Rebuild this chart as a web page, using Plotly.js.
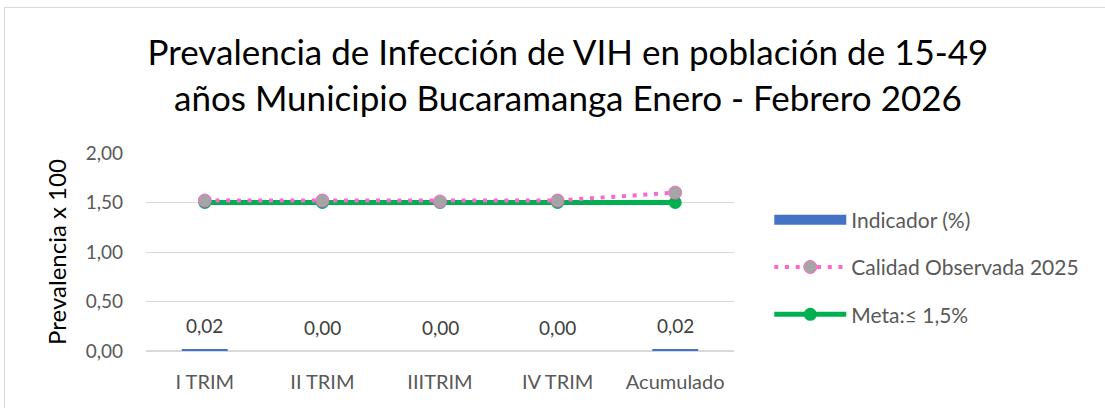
<!DOCTYPE html>
<html><head><meta charset="utf-8">
<script src="https://cdn.plot.ly/plotly-3.0.1.min.js"></script>
<style>
html,body{margin:0;padding:0;background:#fff;overflow:hidden;}
#frame{position:absolute;left:4px;top:7px;width:1110px;height:410px;border:1px solid #d9d9d9;box-sizing:border-box;}
#chart{position:absolute;left:0;top:0;width:1105px;height:408px;}
</style></head>
<body>
<div id="frame"></div>
<div id="chart"></div>
<script>
const categories = ["I TRIM", "II TRIM", "IIITRIM", "IV TRIM", "Acumulado"];
const indicador = [0.02, 0.00, 0.00, 0.00, 0.02];
const calidad = [1.52, 1.52, 1.51, 1.52, 1.60];
const meta = [1.5, 1.5, 1.5, 1.5, 1.5];
const indicadorLabels = ["0,02", "0,00", "0,00", "0,00", "0,02"];
const yTickVals = [0, 0.5, 1, 1.5, 2];
const yTickText = ["0,00", "0,50", "1,00", "1,50", "2,00"];

const font = "Lato, 'Open Sans', sans-serif";
const barTrace = {type:"bar", name:"Indicador (%)", x:categories, y:indicador, width:0.39,
   marker:{color:"#4472c4"}, cliponaxis:false, showlegend:false};
// legend entry for the bar series, drawn as a wide band like the original
const barLegend = {type:"scatter", mode:"lines", name:"Indicador (%)", x:[categories[0]], y:[null],
   line:{color:"#4472c4", width:10}, legendgroup:"a", legendrank:1};
const calTrace = {type:"scatter", mode:"lines+markers", name:"Calidad Observada 2025", x:categories, y:calidad,
   line:{color:"#ff66cc", width:4, dash:"4px,6.7px"},
   marker:{color:"#a5a5a5", size:13, line:{color:"#ff66cc", width:1}}, legendgroup:"b", legendrank:2};
const metaTrace = {type:"scatter", mode:"lines+markers", name:"Meta:≤ 1,5%", x:categories, y:meta,
   line:{color:"#00b050", width:5},
   marker:{color:"#00b050", size:13}, legendgroup:"c", legendrank:3};
const data = [barTrace, barLegend, metaTrace, calTrace];
const annotations = categories.map((c, i) => ({
  x:c, y:indicador[i], xref:"x", yref:"y", text:indicadorLabels[i], showarrow:false,
  yanchor:"bottom", yshift:10, font:{size:19, color:"#404040", family:font}
}));
const layout = {
  width:1105, height:408,
  margin:{l:146, r:371, t:153, b:57},
  paper_bgcolor:"rgba(0,0,0,0)", plot_bgcolor:"rgba(0,0,0,0)",
  font:{family:font, color:"#595959", size:19},
  title:{text:"Prevalencia de Infección de VIH en población de 15-49<br>años Municipio Bucaramanga Enero - Febrero 2026",
    font:{family:font, size:35, color:"#000000"}, x:0.514, xref:"container", xanchor:"center",
    y:0.84, yref:"container", yanchor:"middle"},
  xaxis:{type:"category", tickfont:{size:20, color:"#595959"}, showline:false, showgrid:false, ticks:"", ticklabelstandoff:17},
  yaxis:{range:[0,2], tickvals:yTickVals, ticktext:yTickText, gridcolor:"#d9d9d9", gridwidth:1,
    zeroline:true, zerolinecolor:"#d9d9d9", zerolinewidth:1.5,
    tickfont:{size:19, color:"#595959"}, ticks:"", ticklabelstandoff:22,
    title:{text:"Prevalencia x 100", font:{size:24, color:"#000000"}, standoff:12}},
  annotations:annotations,
  showlegend:true,
  legend:{x:1.06, xanchor:"left", y:0.424, yanchor:"middle", traceorder:"grouped",
    font:{size:21, color:"#595959"}, tracegroupgap:17, itemwidth:72, bgcolor:"rgba(0,0,0,0)"},
};
Plotly.newPlot("chart", data, layout, {displayModeBar:false, staticPlot:true});
</script>
</body></html>
